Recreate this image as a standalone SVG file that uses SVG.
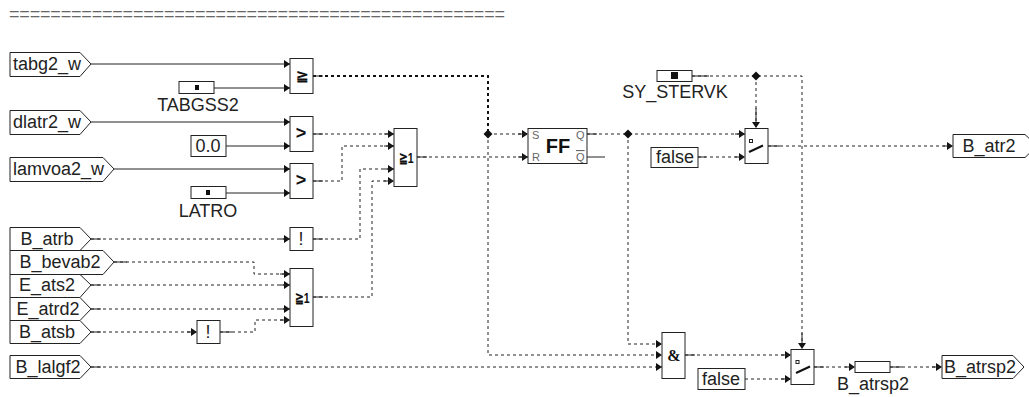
<svg xmlns="http://www.w3.org/2000/svg" width="1029" height="397" viewBox="0 0 1029 397">
<style>
text{font-family:"Liberation Sans",Arial,sans-serif;font-size:18px;fill:#222}
.b{fill:#fff;stroke:#222;stroke-width:1}
.c{fill:none;stroke:#222;stroke-width:1;stroke-dasharray:3 3}
.s{fill:none;stroke:#222;stroke-width:1}
.t{fill:none;stroke:#111;stroke-width:2;stroke-dasharray:3 3}
.o{font-weight:bold;font-size:15px;text-anchor:middle;fill:#111}
.n{font-size:18px;text-anchor:middle;fill:#222}
.m{text-anchor:middle}
.sm{font-size:11px;fill:#666}
</style>
<defs>
<marker id="a" markerUnits="userSpaceOnUse" markerWidth="7" markerHeight="8" refX="6" refY="4" orient="auto"><path d="M0 0L6 4L0 8z" fill="#111"/></marker>
<path id="d" d="M0-4.500L4.500 0L0 4.500L-4.500 0z" fill="#111"/>
</defs>
<text x="9" y="20" textLength="496" lengthAdjust="spacing" style="fill:#666">================================================</text>
<g id="connectors">
<path class="s" d="M91 64H290" marker-end="url(#a)"/>
<path class="s" d="M214 88H290" marker-end="url(#a)"/>
<path class="s" d="M91 122H290" marker-end="url(#a)"/>
<path class="s" d="M226 146H290" marker-end="url(#a)"/>
<path class="s" d="M114 169H290" marker-end="url(#a)"/>
<path class="s" d="M226 193H290" marker-end="url(#a)"/>
<path class="t" d="M313 76H488V134"/>
<path class="c" d="M313 134H394" marker-end="url(#a)"/>
<path class="c" d="M313 181H342V146H394" marker-end="url(#a)"/>
<path class="c" d="M313 239H360V169H394" marker-end="url(#a)"/>
<path class="c" d="M313 297H372V181H394" marker-end="url(#a)"/>
<path class="c" d="M417 157H528" marker-end="url(#a)"/>
<path class="c" d="M488 134H528" marker-end="url(#a)"/>
<path class="c" d="M488 134V355H662" marker-end="url(#a)"/>
<path class="c" d="M91 239H290" marker-end="url(#a)"/>
<path class="c" d="M114 262H254V274H290" marker-end="url(#a)"/>
<path class="c" d="M91 285H290" marker-end="url(#a)"/>
<path class="c" d="M91 309H290" marker-end="url(#a)"/>
<path class="c" d="M91 332H197" marker-end="url(#a)"/>
<path class="c" d="M220 332H255V320H290" marker-end="url(#a)"/>
<path class="c" d="M91 367H662" marker-end="url(#a)"/>
<path class="c" d="M587 134H745" marker-end="url(#a)"/>
<path class="s" d="M587 157H605"/>
<path class="c" d="M628 134V344H662" marker-end="url(#a)"/>
<path class="c" d="M692 76H802V349" marker-end="url(#a)"/>
<path class="c" d="M756 76V128" marker-end="url(#a)"/>
<path class="c" d="M698 157H745" marker-end="url(#a)"/>
<path class="c" d="M768 146H953" marker-end="url(#a)"/>
<path class="c" d="M685 355H791" marker-end="url(#a)"/>
<path class="c" d="M745 379H791" marker-end="url(#a)"/>
<path class="c" d="M814 367H855" marker-end="url(#a)"/>
<path class="c" d="M890 367H942" marker-end="url(#a)"/>
<path class="s" d="M91 239H101M280 239H288M114 262H127M280 274H288M91 285H101M280 285H288M91 309H101M280 309H288M91 332H101M187 332H195M220 332H232M280 320H288M91 367H101M313 76H323M313 134H323M384 134H392M313 181H323M384 146H392M313 239H323M384 169H392M313 297H323M384 181H392M417 157H427M518 157H526M518 134H526M587 134H597M735 134H743M698 157H706M735 157H743M768 146H780M943 146H951M685 355H695M781 355H789M735 379H743M781 379H789M814 367H824M845 367H853M890 367H902M932 367H940M692 76H709M756 108V126M802 333V347"/>
<use href="#d" x="488" y="134"/>
<use href="#d" x="628" y="134"/>
<use href="#d" x="756" y="76"/>
</g>
<g id="tabg2_w"><path class="b" d="M10 52.500H80L91 64L80 76.500H10z"/><text x="13" y="70">tabg2_w</text></g>
<g id="dlatr2_w"><path class="b" d="M10 110.500H80L91 122L80 134.500H10z"/><text x="13" y="128">dlatr2_w</text></g>
<g id="lamvoa2_w"><path class="b" d="M10 157.500H103L114 169L103 181.500H10z"/><text x="13" y="175">lamvoa2_w</text></g>
<g id="B_atrb"><path class="b" d="M10 227.500H80L91 239L80 250.500H10z"/><text x="47" y="245" class="m">B_atrb</text></g>
<g id="B_bevab2"><path class="b" d="M10 250.500H103L114 262L103 274.500H10z"/><text x="60" y="268" class="m">B_bevab2</text></g>
<g id="E_ats2"><path class="b" d="M10 274.500H80L91 285L80 297.500H10z"/><text x="47" y="291" class="m">E_ats2</text></g>
<g id="E_atrd2"><path class="b" d="M10 297.500H80L91 309L80 320.500H10z"/><text x="48" y="315" class="m">E_atrd2</text></g>
<g id="B_atsb"><path class="b" d="M10 320.500H80L91 332L80 343.500H10z"/><text x="47" y="338" class="m">B_atsb</text></g>
<g id="B_lalgf2"><path class="b" d="M10 355.500H80L91 367L80 378.500H10z"/><text x="48" y="373" class="m">B_lalgf2</text></g>
<g id="TABGSS2"><rect class="b" x="179" y="81.500" width="35" height="12"/><rect x="195" y="85" width="4" height="5" fill="#111"/><text x="198" y="111" class="m">TABGSS2</text></g>
<g id="v00"><rect class="b" x="191" y="135.500" width="35" height="21"/><text x="208" y="152" class="m">0.0</text></g>
<g id="LATRO"><rect class="b" x="191" y="186.500" width="35" height="12"/><rect x="206" y="190" width="4" height="5" fill="#111"/><text x="208" y="217" class="m">LATRO</text></g>
<g id="ge1"><rect class="b" x="290" y="58.500" width="23" height="35"/><text x="302" y="81" class="o">≧</text></g>
<g id="gt1"><rect class="b" x="290" y="116.500" width="23" height="35"/><text x="301" y="139" class="o" style="font-size:18px">&gt;</text></g>
<g id="gt2"><rect class="b" x="290" y="163.500" width="23" height="35"/><text x="301" y="186" class="o" style="font-size:18px">&gt;</text></g>
<g id="not1"><rect class="b" x="290" y="227.500" width="23" height="23"/><text x="301" y="245" class="n">!</text></g>
<g id="or2"><rect class="b" x="290" y="268.500" width="23" height="58"/><text x="302" y="303" class="o" textLength="15" lengthAdjust="spacingAndGlyphs">≧1</text></g>
<g id="not2"><rect class="b" x="197" y="320.500" width="23" height="23"/><text x="208" y="338" class="n">!</text></g>
<g id="or1"><rect class="b" x="394" y="128.500" width="23" height="58"/><text x="406" y="163" class="o" textLength="15" lengthAdjust="spacingAndGlyphs">≧1</text></g>
<g id="FF"><rect class="b" x="528" y="128.500" width="59" height="35"/><text x="558" y="153" class="o" style="font-size:20px">FF</text><text x="532" y="139" class="sm">S</text><text x="532" y="161" class="sm">R</text><text x="576" y="139" class="sm">Q</text><text x="576" y="161" class="sm" style="text-decoration:overline">Q</text></g>
<g id="SY_STERVK"><rect class="b" x="657" y="70.500" width="35" height="11"/><rect x="671" y="72" width="7" height="7" fill="#111"/><text x="675" y="98" class="m">SY_STERVK</text></g>
<g id="false1"><rect class="b" x="651" y="147.500" width="47" height="20"/><text x="675" y="163" class="m">false</text></g>
<g id="sw1"><rect class="b" x="745" y="128.500" width="23" height="35"/><rect x="749.500" y="139.500" width="3" height="3" class="s"/><path d="M749 152L763 145.500" stroke="#111" stroke-width="2" fill="none"/></g>
<g id="B_atr2"><path class="b" d="M953 134.500H1025L1037 146L1025 157.500H953z"/><text x="989" y="152" class="m">B_atr2</text></g>
<g id="and"><rect class="b" x="662" y="332.500" width="23" height="46"/><text x="674" y="361" class="o" style="font-family:'Liberation Serif',serif;font-size:16px">&amp;</text></g>
<g id="false2"><rect class="b" x="698" y="368.500" width="47" height="21"/><text x="721" y="385" class="m">false</text></g>
<g id="sw2"><rect class="b" x="791" y="349.500" width="23" height="35"/><rect x="796" y="360.500" width="3" height="3" class="s"/><path d="M796 373L810 366.500" stroke="#111" stroke-width="2" fill="none"/></g>
<g id="B_atrsp2_v"><rect class="b" x="855" y="361.500" width="35" height="11"/><text x="873" y="390" class="m">B_atrsp2</text></g>
<g id="B_atrsp2"><path class="b" d="M942 355.500H1013L1024 367L1013 378.500H942z"/><text x="944" y="373">B_atrsp2</text></g>
</svg>
